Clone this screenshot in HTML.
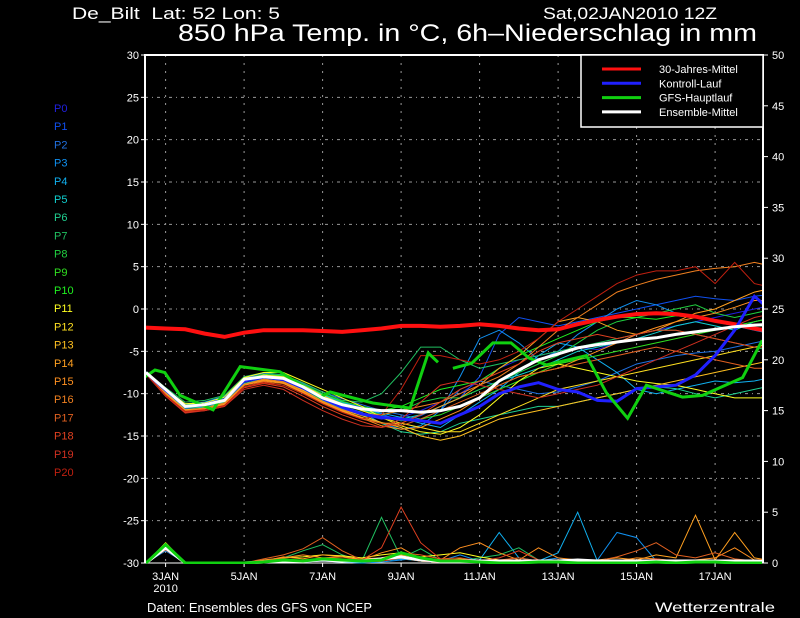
<!DOCTYPE html>
<html><head><meta charset="utf-8"><style>
html,body{margin:0;padding:0;background:#000;}
svg{display:block;font-family:"Liberation Sans",sans-serif;}
</style></head><body>
<svg id="chart" width="800" height="618" viewBox="0 0 800 618" xmlns="http://www.w3.org/2000/svg">
<rect x="0" y="0" width="800" height="618" fill="#000"/>
<text x="72" y="19" fill="#fff" font-size="17" textLength="208" lengthAdjust="spacingAndGlyphs">De_Bilt&#160;&#160;Lat: 52 Lon: 5</text>
<text x="543" y="19" fill="#fff" font-size="17" textLength="174" lengthAdjust="spacingAndGlyphs">Sat,02JAN2010 12Z</text>
<text x="178" y="41" fill="#fff" font-size="24" textLength="579" lengthAdjust="spacingAndGlyphs">850 hPa Temp. in °C, 6h–Niederschlag in mm</text>
<text x="147" y="612" fill="#fff" font-size="13" textLength="225" lengthAdjust="spacingAndGlyphs">Daten: Ensembles des GFS von NCEP</text>
<text x="655" y="612" fill="#fff" font-size="14" textLength="120" lengthAdjust="spacingAndGlyphs">Wetterzentrale</text>
<defs><clipPath id="plotclip"><rect x="146" y="55" width="616" height="509"/></clipPath></defs>
<g id="grid"></g>
<g id="axes"></g>
<g id="series" clip-path="url(#plotclip)"></g>
<g id="legend"></g>
<g id="plabels"></g>
</svg>
<script>
// ---------- data ----------
const days = [2.5,3,3.5,4,4.5,5,5.5,6,6.5,7,7.5,8,8.5,9,9.5,10,10.5,11,11.5,12,12.5,13,13.5,14,14.5,15,15.5,16,16.5,17,17.5,18,18.5];
const dayTicks = [3,5,7,9,11,13,15,17];
const dayTickLabels = ["3JAN","5JAN","7JAN","9JAN","11JAN","13JAN","15JAN","17JAN"];
const tempTicks = [-30,-25,-20,-15,-10,-5,0,5,10,15,20,25,30];
const precipTicks = [0,5,10,15,20,25,30,35,40,45,50];
const memberNames = ["P0","P1","P2","P3","P4","P5","P6","P7","P8","P9","P10","P11","P12","P13","P14","P15","P16","P17","P18","P19","P20"];
const memberColors = ["#2020e0","#1050f0","#2070e0","#1090f0","#10b0f0","#10d0d0","#20d090","#20c060","#20d040","#30e020","#20f020","#ffff20","#ffe020","#ffc020","#ffa020","#ff9020","#f08020","#e06020","#e04020","#d03020","#c02010"];
const m0=[-7.5,-9.8,-11.8,-11.5,-11,-8.8,-8.2,-8.5,-9.5,-10.8,-11.8,-12.5,-13,-12.8,-12,-11,-10,-8.5,-7,-6,-5.5,-5,-4.5,-4.8,-4,-3,-2.5,-2,-1.5,-1,-0.5,0,0.5];
const m1=[-7.4,-9.6,-11.4,-11.2,-10.6,-8.4,-7.9,-8.1,-9,-10.2,-11,-11.6,-12.4,-13.2,-12.6,-11.5,-10.5,-8,-3,-1,-1.5,-2,-1.5,-1,-0.5,0,0.5,1,1.5,1.2,1,1.5,1.8];
const m2=[-7.6,-9.5,-11.3,-11,-10.3,-8.2,-7.6,-7.8,-8.8,-9.8,-10.6,-11.3,-12,-12.5,-13,-12,-9.5,-8.5,-9,-9.5,-10,-9.8,-9.2,-8.5,-7.5,-6.5,-6,-5.5,-5.2,-5,-4.5,-4,-3.5];
const m3=[-7.5,-9.7,-11.6,-11.4,-10.9,-8.6,-8.1,-8.4,-9.4,-10.6,-11.5,-12.2,-13.5,-14.2,-13.8,-12,-8,-3.5,-2.5,-4,-6,-5,-3,-1.5,0,1,0.5,-0.5,-1,-1.5,-2,-2.5,-3];
const m4=[-7.5,-9.4,-11.2,-11,-10.4,-8.3,-7.8,-8,-9,-10.1,-11,-11.8,-12.3,-12.8,-13.5,-14,-12.5,-11,-9.5,-7.5,-5.5,-4,-4.5,-6,-7.5,-9.5,-10,-9.5,-9,-8.5,-8.7,-8.5,-8];
const m5=[-7.5,-9.6,-11.5,-11.3,-10.7,-8.4,-7.8,-8.1,-9.1,-10.2,-11.2,-11.9,-12.6,-13,-12.5,-11.5,-10.5,-9.5,-8.5,-7.8,-7,-6,-5,-4.5,-4,-3.5,-2.8,-2,-1.5,-2,-2.5,-1.5,-1];
const m6=[-7.5,-9.8,-11.7,-11.6,-11,-8.8,-8.3,-8.6,-9.6,-10.8,-11.8,-12.5,-13.5,-14.5,-14.8,-14.5,-13.5,-13,-12.5,-12,-11.5,-11.5,-11,-10.5,-10,-9.5,-9.2,-9.4,-10,-10.5,-10,-9.5,-9];
const m7=[-7.4,-9.3,-11,-10.8,-10.2,-8,-7.5,-7.8,-8.7,-9.8,-10.8,-11,-10,-7.5,-4.5,-4.5,-6,-7,-6.5,-6,-5.5,-5,-4.5,-4,-3.5,-3,-2.5,-2.5,-3,-3.5,-4,-4.5,-5];
const m8=[-7.5,-9.6,-11.4,-11.2,-10.6,-8.5,-7.9,-8.2,-9.2,-10.3,-11.1,-11.8,-12.5,-12,-11,-10.5,-10.5,-9.5,-8.5,-7.5,-6.5,-5.5,-4,-2.5,-1.5,-1,-0.5,0,0.5,-0.5,-1,-0.5,0];
const m9=[-7.5,-9.7,-11.5,-11.3,-10.8,-8.6,-8,-8.3,-9.3,-10.4,-11.3,-12,-12.7,-13.2,-13,-12.5,-11.5,-10.5,-9.5,-8.5,-7.5,-6.5,-6,-5.5,-5,-4.5,-4,-3.5,-3,-2.5,-2,-1.5,-1];
const m10=[-7.5,-9.5,-11.3,-11.1,-10.5,-8.3,-7.7,-7.9,-8.9,-10,-10.9,-11.5,-12,-11.5,-10.5,-9.5,-9,-8.5,-7,-5.5,-4.5,-3.5,-2.5,-1.5,-1,-1,-1.2,-0.8,-1,-1.5,-1.8,-2,-2];
const m11=[-7.5,-9.5,-11.2,-11.1,-10.4,-8.1,-7.5,-7.5,-8.5,-9.5,-10.5,-11.5,-12.8,-13.8,-14.5,-14.8,-14,-12.5,-10.5,-8.5,-7,-6.5,-7,-7.5,-8,-8.5,-8.8,-9,-9.5,-10,-10.5,-10.5,-10.5];
const m12=[-7.5,-9.6,-11.4,-11.2,-10.7,-8.4,-7.8,-8,-9,-10.2,-11.2,-12,-12.8,-13.5,-14,-14.5,-14.5,-13.5,-12.5,-11.5,-10.5,-9.5,-9,-8.5,-8,-7.5,-7,-6.5,-6,-5.5,-5,-4.5,-4];
const m13=[-7.6,-9.9,-11.9,-11.7,-11.1,-8.9,-8.3,-8.6,-9.6,-10.9,-11.9,-12.6,-13.4,-14,-15,-15.5,-15,-14,-13,-12.5,-12,-11.5,-11,-10.5,-10,-9.5,-9,-8.5,-8,-7.5,-7,-6.5,-6];
const m14=[-7.6,-10,-12,-11.8,-11.2,-9,-8.4,-8.7,-9.8,-11,-12,-12.8,-13.5,-13.5,-12.5,-11.5,-10.5,-9,-7,-5.5,-3.5,-1.5,-1,-1.5,-2.5,-3,-2.5,-1.5,-0.5,0,1,2,2.5];
const m15=[-7.6,-10.1,-12.1,-11.8,-11.3,-9,-8.5,-8.8,-9.9,-11.1,-12.1,-12.9,-13.8,-14.2,-14,-13,-12,-10.5,-9,-8,-7.5,-7,-6,-5,-4,-3,-2.2,-1.5,-1,-0.5,0.2,1,1];
const m16=[-7.6,-10,-12,-11.7,-11.1,-8.9,-8.3,-8.6,-9.7,-10.9,-11.9,-12.4,-12.5,-12,-11.5,-11,-10,-9,-8,-6.5,-4.5,-2.5,-1,0.5,2,2.8,3.5,4,4.5,4.8,5,5.5,5];
const m17=[-7.7,-10.2,-12.2,-11.9,-11.4,-9.2,-8.6,-9,-10,-11.2,-12.2,-13,-13.5,-13.8,-13,-12,-11,-10,-9,-8,-7.5,-7,-6.5,-6,-5.5,-5,-4.5,-5,-5.5,-6,-6.5,-7,-7];
const m18=[-7.7,-10.3,-12.2,-12,-11.5,-9.3,-8.8,-9.2,-10.3,-11.5,-12.5,-13.3,-14,-13.5,-12.5,-11,-9.5,-8.5,-7.5,-6.5,-5,-4,-3.5,-3,-3.5,-3,-2.5,-2.5,-3,-3.5,-4,-4.5,-4.5];
const m19=[-7.7,-10.3,-12.3,-12,-11.5,-9.5,-9,-9.5,-10.8,-12,-13,-13.8,-14,-13,-11,-9,-8.5,-9,-9.5,-10,-10.5,-10,-9.5,-9,-8,-7,-6,-5,-4,-3,-2,-1,-0.5];
const m20=[-7.7,-10.2,-12.1,-11.9,-11.4,-9.2,-8.7,-9,-10,-11.2,-12.2,-13,-12.5,-9.5,-5.5,-5.5,-6,-6.5,-6,-5,-3.5,-1.5,0,1.5,3,4,4.5,4.5,5,3,5.5,3,2.5];
const memberTemps=[m0,m1,m2,m3,m4,m5,m6,m7,m8,m9,m10,m11,m12,m13,m14,m15,m16,m17,m18,m19,m20];
const climTemps=[-2.2,-2.3,-2.4,-2.9,-3.3,-2.8,-2.5,-2.5,-2.5,-2.6,-2.7,-2.5,-2.3,-2,-2,-2.1,-2,-1.8,-2,-2.3,-2.5,-2.4,-1.8,-1.3,-0.9,-0.6,-0.5,-0.6,-0.9,-1.4,-1.8,-2.3,-2.7];
const controlTemps=[-7.5,-9.6,-11.5,-11.3,-10.7,-8.5,-8,-8.3,-9.3,-10.6,-11.6,-12.4,-12.8,-13,-13.2,-13.5,-12.5,-11.5,-10,-9.2,-8.7,-9.5,-9.8,-10.8,-10.9,-9.4,-9.2,-9,-7.8,-5.5,-2.5,1.5,-0.5];
const meanTemps=[-7.5,-9.5,-11.5,-11.3,-10.8,-8.3,-8,-8.2,-9.2,-10.5,-11.3,-11.8,-12,-12,-12.2,-12,-11.5,-10.5,-8.5,-7.2,-6,-5.3,-4.6,-4.2,-3.9,-3.6,-3.4,-3,-2.7,-2.4,-2.1,-1.9,-1.8];
const gfsDays=[2.48,2.73,2.98,3.37,4.21,4.9,5.91,6.93,7.19,8.28,9.23,9.69,9.94,null,10.32,10.8,11.34,11.8,12.26,12.7,13.72,14.23,14.77,15.25,16.17,16.68,17.7,18.2];
const gfsTemps=[-8,-7.2,-7.5,-10.2,-11.9,-6.8,-7.4,-10.4,-9.8,-11.1,-11.7,-5.2,-6.3,null,-7,-6.4,-4,-4,-5.8,-6.6,-5.5,-9.9,-12.9,-9,-10.4,-10.2,-8.1,-3.7];
// precipitation (mm / 6h) on the same 12h grid
const precipBase=[0,1.5,0,0,0,0,0.1,0.3,0.2,0.3,0.2,0.1,0.2,0.5,0.2,0.1,0.2,0.1,0,0.1,0,0.1,0.2,0,0.1,0,0.1,0,0.1,0.2,0,0.1,0];
const p3=[0,1.2,0,0,0,0,0,0.2,0.1,0.2,0.1,0,0.1,0.3,0.5,0.2,0.8,0.2,0.1,0,0.2,0.5,0.1,0.3,3,2.5,0.2,0.1,0,0.1,0.2,0,0];
const p4=[0,1.4,0,0,0,0,0.1,0.3,0.2,0.4,0.1,0,0.2,0.4,0.2,0.1,0.1,0.3,3,0.5,0.2,1,5,0.2,0,0.1,0.3,0,0.2,0.1,0,0.2,0];
const p7=[0,1.8,0,0,0,0,0.3,0.5,1.2,1.8,0.8,0.2,4.5,0.5,1.4,0.3,0.2,0.5,0.8,1.5,0.3,0.1,0,0.2,0.1,0,0.3,0.1,0,0.2,0.3,0,0];
const p14=[0,1.6,0,0,0,0,0.2,0.6,0.4,0.8,0.6,0.4,0.5,0.8,0.5,0.2,0.4,0.2,0.3,0.1,0.2,0,0.1,0.3,0.5,0.3,0.8,0.5,4.7,0.3,3,0.5,0.2];
const p15=[0,1.5,0,0,0,0,0.3,0.5,0.8,0.5,0.6,0.3,1,1.5,0.4,0.3,1.5,2,1,0.3,1.5,0.5,0.3,0.1,0.2,0.5,0.4,0.2,0.3,0.5,1.5,0.3,0.4];
const p17=[0,1.3,0,0,0,0,0.4,0.8,1.4,2.5,1.2,0.3,0.5,1,0.8,0.4,0.5,0.2,0.3,0.5,0.2,0.1,0.3,0.2,0.6,1.2,2,0.8,0.5,1,0.4,0.2,0];
const p18=[0,1.4,0,0,0,0,0.2,0.4,0.2,0.5,0.4,0.3,1.5,5.5,2,0.4,0.3,0.2,0.5,1.2,0.3,0.1,0.2,0,0.3,0.1,0.4,0.1,0,0.2,0,0.3,0.2];
const p11=[0,2,0,0,0,0,0.2,0.5,0.6,0.8,0.7,0.5,0.8,1,0.6,0.8,1,0.6,0.3,0.2,0.1,0.3,0.2,0.1,0.3,0.2,0.1,0.2,0.1,0.3,0.1,0.2,0];
const memberPrecip=[precipBase,precipBase,precipBase,p3,p4,precipBase,precipBase,p7,precipBase,precipBase,precipBase,p11,precipBase,precipBase,p14,p15,precipBase,p17,p18,precipBase,precipBase];
const gfsPrecip=[0,1.8,0,0,0,0,0.1,0.3,0.2,0.4,0.3,0.2,0.3,1,0.5,0.2,0.2,0.1,0,0,0.1,0.1,0,0,0,0,0.1,0,0.1,0.1,0,0,0];
const meanPrecip=[0,1.5,0,0,0,0,0.1,0.2,0.2,0.3,0.2,0.2,0.4,0.6,0.3,0.2,0.2,0.2,0.2,0.2,0.2,0.2,0.3,0.2,0.2,0.2,0.2,0.2,0.2,0.2,0.2,0.2,0.1];
const legendLabels=["30-Jahres-Mittel","Kontroll-Lauf","GFS-Hauptlauf","Ensemble-Mittel"];
const legendColors=["#ff1010","#2020ff","#10d010","#ffffff"];

// ---------- scales ----------
const NS="http://www.w3.org/2000/svg";
const X0=145, X1=763, YT=55, YB=563;
function xOf(d){return 165.6+(d-3)*39.25;}
function yT(t){return YB-(t+30)*(YB-YT)/60;}
function yP(p){return YB-p*(YB-YT)/50;}
function mk(tag,attrs,parent){const e=document.createElementNS(NS,tag);for(const k in attrs)e.setAttribute(k,attrs[k]);parent.appendChild(e);return e;}
const grid=document.getElementById('grid'),axes=document.getElementById('axes'),series=document.getElementById('series'),legend=document.getElementById('legend'),plab=document.getElementById('plabels');

// grid
dayTicks.forEach((d,i)=>{
  const l=mk('line',{x1:xOf(d),x2:xOf(d),y1:YT,y2:YB,stroke:'#999','stroke-width':1,'stroke-dasharray':'2,6'},grid);
  
  
  const t=mk('text',{x:xOf(d),y:580,fill:'#fff','font-size':11,'text-anchor':'middle'},axes);
  t.textContent=dayTickLabels[i];
  
  
  const tk=mk('line',{x1:xOf(d),x2:xOf(d),y1:YB,y2:YB+4,stroke:'#fff'},axes);
  
  
});
{const t=mk('text',{x:xOf(3),y:592,fill:'#fff','font-size':11,'text-anchor':'middle'},axes);t.textContent='2010';

}
tempTicks.forEach(v=>{
  if(v>-30&&v<30){const l=mk('line',{x1:X0,x2:X1,y1:yT(v),y2:yT(v),stroke:'#999','stroke-width':1,'stroke-dasharray':'3,4,1,4'},grid);
  
  }
  const tk=mk('line',{x1:X0-4,x2:X0,y1:yT(v),y2:yT(v),stroke:'#fff'},axes);
  
  
  const t=mk('text',{x:X0-6,y:yT(v)+4,fill:'#fff','font-size':11,'text-anchor':'end'},axes);
  t.textContent=String(v);
  
  
});
precipTicks.forEach(v=>{
  const tk=mk('line',{x1:X1,x2:X1+5,y1:yP(v),y2:yP(v),stroke:'#fff'},axes);
  
  
  const t=mk('text',{x:X1+9,y:yP(v)+4,fill:'#fff','font-size':11},axes);
  t.textContent=String(v);
  
  
});
{const a=mk('path',{d:`M${X0} ${YB} L${X0} ${YT} L${X1} ${YT} L${X1} ${YB}`,stroke:'#fff','stroke-width':2,fill:'none'},axes);


const b=mk('line',{x1:X0,x2:X1,y1:YB,y2:YB,stroke:'#fff','stroke-width':1},axes);

}

function pathFrom(xs,vals,yf){let d='',pen=false;for(let i=0;i<vals.length;i++){if(vals[i]===null||xs[i]===null){pen=false;continue;}d+=(pen?'L':'M')+xOf(xs[i]).toFixed(1)+' '+yf(vals[i]).toFixed(1)+' ';pen=true;}return d;}

// members
memberTemps.forEach((arr,i)=>{
  const p=mk('path',{d:pathFrom(days,memberPrecip[i],yP),stroke:memberColors[i],'stroke-width':1,fill:'none'},series);
  
  
});
memberTemps.forEach((arr,i)=>{
  const p=mk('path',{d:pathFrom(days,arr,yT),stroke:memberColors[i],'stroke-width':1,fill:'none'},series);
  
  
});
[[meanPrecip,'#ffffff','precip-mean'],[gfsPrecip,'#10d010','precip-gfs']].forEach(s=>{
  const p=mk('path',{d:pathFrom(days,s[0],yP),stroke:s[1],'stroke-width':3,fill:'none'},series);
  
  
});
{const p=mk('path',{d:pathFrom(days,climTemps,yT),stroke:'#ff1010','stroke-width':4,fill:'none'},series);

}
{const p=mk('path',{d:pathFrom(days,controlTemps,yT),stroke:'#2020ff','stroke-width':3,fill:'none'},series);

}
{const p=mk('path',{d:pathFrom(gfsDays,gfsTemps,yT),stroke:'#10d010','stroke-width':3,fill:'none'},series);

}
{const p=mk('path',{d:pathFrom(days,meanTemps,yT),stroke:'#ffffff','stroke-width':3,fill:'none'},series);

}

// legend
{const r=mk('rect',{x:581,y:55,width:182,height:72,fill:'#000',stroke:'#fff','stroke-width':1.5},legend);

}
legendLabels.forEach((lab,i)=>{
  const y=69+i*14.3;
  const l=mk('line',{x1:602,x2:641,y1:y,y2:y,stroke:legendColors[i],'stroke-width':3},legend);
  
  
  const t=mk('text',{x:659,y:y+4,fill:'#fff','font-size':11},legend);
  t.textContent=lab;
  
  
});
memberNames.forEach((n,i)=>{
  const t=mk('text',{x:54,y:112+i*18.2,fill:memberColors[i],'font-size':11},plab);
  t.textContent=n;
  
  
});
</script>
</body></html>
